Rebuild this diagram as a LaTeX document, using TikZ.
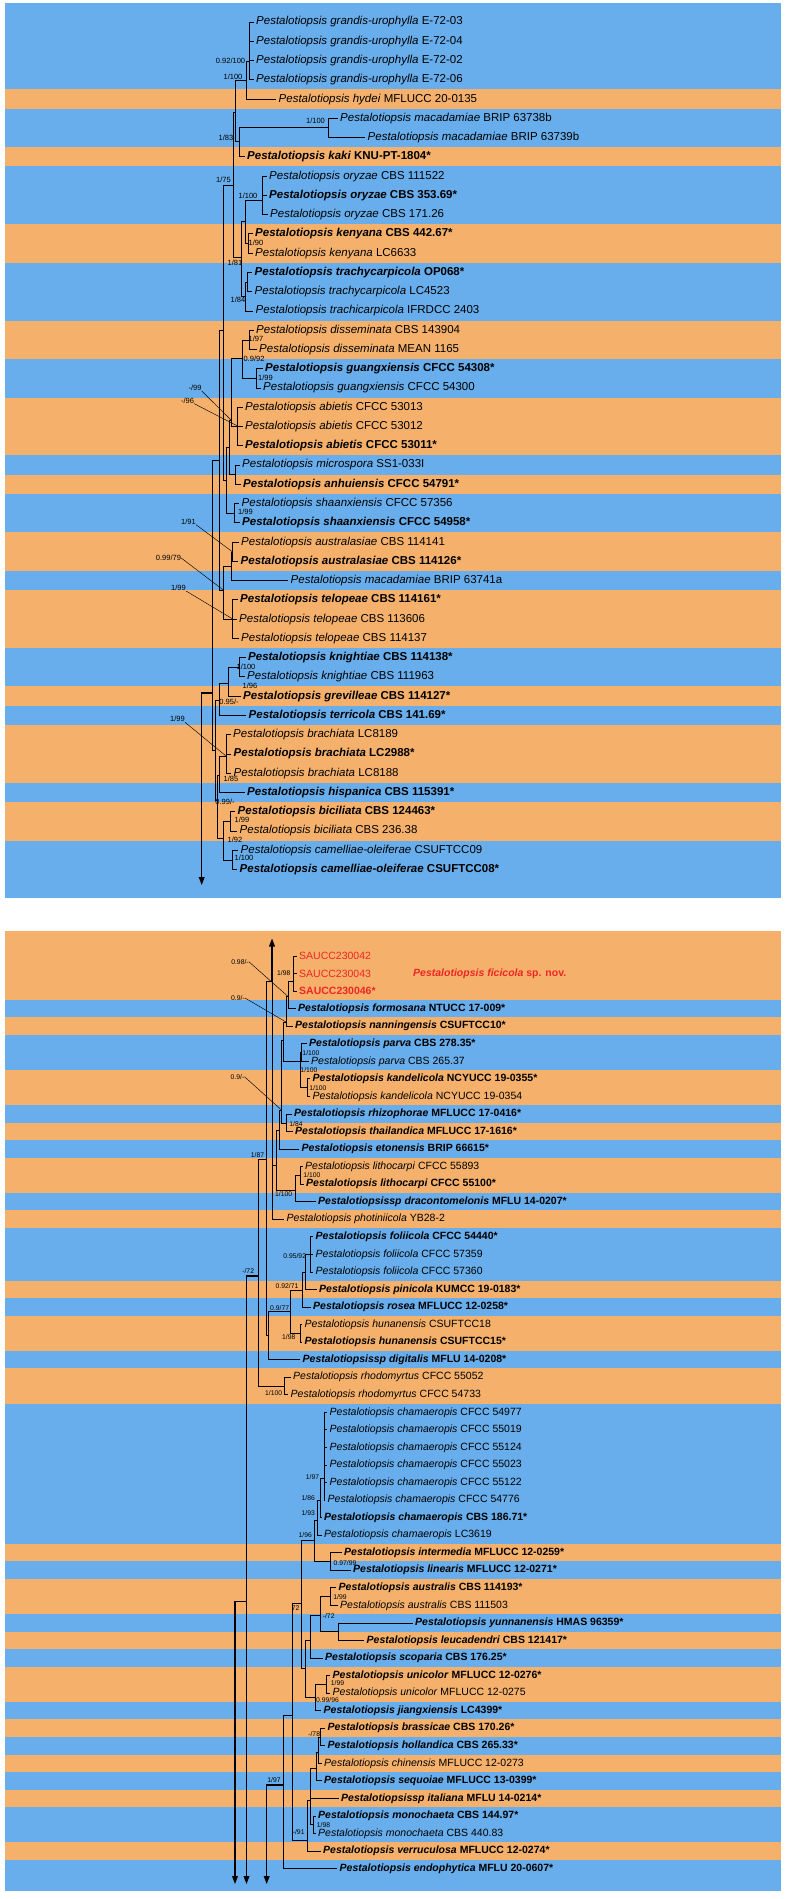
\documentclass[tikz,border=0pt]{standalone}
\usepackage{fontspec}
\setmainfont{Liberation Sans}
\usetikzlibrary{arrows.meta}
\definecolor{bandB}{RGB}{104,174,236}
\definecolor{bandO}{RGB}{245,177,107}
\definecolor{newR}{RGB}{238,38,36}
\newcommand{\taxr}[2]{\textit{#1} #2}
\newcommand{\taxb}[2]{\textbf{\textit{#1} #2}}

\begin{document}
\begin{tikzpicture}[x=1pt,y=-1pt,
  br/.style={line width=0.75pt},
  arr/.style={line width=1.1pt,-{Triangle[length=8pt,width=5.8pt]}},
  ptr/.style={line width=0.45pt},
  tax/.style={anchor=west,inner xsep=2.5pt,inner ysep=0pt,font=\fontsize{11.5}{13}\selectfont},
  taxs/.style={tax,font=\fontsize{10.5}{12}\selectfont},
  supp/.style={inner sep=0pt,font=\fontsize{7.5}{8}\selectfont},
  supps/.style={inner sep=0pt,font=\fontsize{6.8}{7}\selectfont}]
\useasboundingbox (0,0) rectangle (785,1899);

% bands
\fill[bandB] (5,3) rectangle (781,898);
\foreach \ra/\rb in {5/5,8/8,12/13,17/18,21/23,25/25,28/29,31/33,36/36,38/40,42/43}{
  \pgfmathsetmacro\yA{22+19.26*(\ra-1)-9.63}
  \pgfmathsetmacro\yB{22+19.26*(\rb-1)+9.63}
  \fill[bandO] (5,\yA) rectangle (781,\yB);}
\fill[bandB] (5,931) rectangle (781,1891);
\fill[bandO] (5,931) rectangle (781,999.875);
\foreach \ra/\rb in {5/5,8/9,11/11,13/14,16/16,20/20,22/23,25/26,35/35,37/38,40/40,42/43,45/45,47/47,49/49,52/52}{
  \pgfmathsetmacro\yA{956+17.55*(\ra-1)-8.775}
  \pgfmathsetmacro\yB{956+17.55*(\rb-1)+8.775}
  \fill[bandO] (5,\yA) rectangle (781,\yB);}

% upper panel taxa
\node[tax] (t1) at (253.5,22) {\taxr{Pestalotiopsis grandis-urophylla}{E-72-03}};
\node[tax] (t2) at (253.5,41.26) {\taxr{Pestalotiopsis grandis-urophylla}{E-72-04}};
\node[tax] (t3) at (253.5,60.52) {\taxr{Pestalotiopsis grandis-urophylla}{E-72-02}};
\node[tax] (t4) at (253.5,79.78) {\taxr{Pestalotiopsis grandis-urophylla}{E-72-06}};
\node[tax] (t5) at (276,99.04) {\taxr{Pestalotiopsis hydei}{MFLUCC 20-0135}};
\node[tax] (t6) at (337.5,118.3) {\taxr{Pestalotiopsis macadamiae}{BRIP 63738b}};
\node[tax] (t7) at (365,137.56) {\taxr{Pestalotiopsis macadamiae}{BRIP 63739b}};
\node[tax] (t8) at (244.5,156.82) {\taxb{Pestalotiopsis kaki}{KNU-PT-1804*}};
\node[tax] (t9) at (266.5,176.08) {\taxr{Pestalotiopsis oryzae}{CBS 111522}};
\node[tax] (t10) at (266.5,195.34) {\taxb{Pestalotiopsis oryzae}{CBS 353.69*}};
\node[tax] (t11) at (267.5,214.6) {\taxr{Pestalotiopsis oryzae}{CBS 171.26}};
\node[tax] (t12) at (252.5,233.86) {\taxb{Pestalotiopsis kenyana}{CBS 442.67*}};
\node[tax] (t13) at (252.5,253.12) {\taxr{Pestalotiopsis kenyana}{LC6633}};
\node[tax] (t14) at (252,272.38) {\taxb{Pestalotiopsis trachycarpicola}{OP068*}};
\node[tax] (t15) at (252,291.64) {\taxr{Pestalotiopsis trachycarpicola}{LC4523}};
\node[tax] (t16) at (253,310.9) {\taxr{Pestalotiopsis trachicarpicola}{IFRDCC 2403}};
\node[tax] (t17) at (253.5,330.16) {\taxr{Pestalotiopsis disseminata}{CBS 143904}};
\node[tax] (t18) at (256.5,349.42) {\taxr{Pestalotiopsis disseminata}{MEAN 1165}};
\node[tax] (t19) at (262.5,368.68) {\taxb{Pestalotiopsis guangxiensis}{CFCC 54308*}};
\node[tax] (t20) at (260.5,387.94) {\taxr{Pestalotiopsis guangxiensis}{CFCC 54300}};
\node[tax] (t21) at (242.5,407.2) {\taxr{Pestalotiopsis abietis}{CFCC 53013}};
\node[tax] (t22) at (242.5,426.46) {\taxr{Pestalotiopsis abietis}{CFCC 53012}};
\node[tax] (t23) at (242.5,445.72) {\taxb{Pestalotiopsis abietis}{CFCC 53011*}};
\node[tax] (t24) at (239.5,464.98) {\taxr{Pestalotiopsis microspora}{SS1-033I}};
\node[tax] (t25) at (240.5,484.24) {\taxb{Pestalotiopsis anhuiensis}{CFCC 54791*}};
\node[tax] (t26) at (239,503.5) {\taxr{Pestalotiopsis shaanxiensis}{CFCC 57356}};
\node[tax] (t27) at (239.5,522.76) {\taxb{Pestalotiopsis shaanxiensis}{CFCC 54958*}};
\node[tax] (t28) at (238.5,542.02) {\taxr{Pestalotiopsis australasiae}{CBS 114141}};
\node[tax] (t29) at (238,561.28) {\taxb{Pestalotiopsis australasiae}{CBS 114126*}};
\node[tax] (t30) at (288,580.54) {\taxr{Pestalotiopsis macadamiae}{BRIP 63741a}};
\node[tax] (t31) at (237.5,599.8) {\taxb{Pestalotiopsis telopeae}{CBS 114161*}};
\node[tax] (t32) at (236.5,619.06) {\taxr{Pestalotiopsis telopeae}{CBS 113606}};
\node[tax] (t33) at (238.5,638.32) {\taxr{Pestalotiopsis telopeae}{CBS 114137}};
\node[tax] (t34) at (245.5,657.58) {\taxb{Pestalotiopsis knightiae}{CBS 114138*}};
\node[tax] (t35) at (244.5,676.84) {\taxr{Pestalotiopsis knightiae}{CBS 111963}};
\node[tax] (t36) at (240.5,696.1) {\taxb{Pestalotiopsis grevilleae}{CBS 114127*}};
\node[tax] (t37) at (246,715.36) {\taxb{Pestalotiopsis terricola}{CBS 141.69*}};
\node[tax] (t38) at (230.5,734.62) {\taxr{Pestalotiopsis brachiata}{LC8189}};
\node[tax] (t39) at (231,753.88) {\taxb{Pestalotiopsis brachiata}{LC2988*}};
\node[tax] (t40) at (231,773.14) {\taxr{Pestalotiopsis brachiata}{LC8188}};
\node[tax] (t41) at (244.5,792.4) {\taxb{Pestalotiopsis hispanica}{CBS 115391*}};
\node[tax] (t42) at (235,811.66) {\taxb{Pestalotiopsis biciliata}{CBS 124463*}};
\node[tax] (t43) at (237,830.92) {\taxr{Pestalotiopsis biciliata}{CBS 236.38}};
\node[tax] (t44) at (238,850.18) {\taxr{Pestalotiopsis camelliae-oleiferae}{CSUFTCC09}};
\node[tax] (t45) at (237,869.44) {\taxb{Pestalotiopsis camelliae-oleiferae}{CSUFTCC08*}};

% upper panel internal nodes
\coordinate (nGu) at (249.3,61);
\coordinate (nGh) at (246.5,80);
\coordinate (nMa) at (328.5,127);
\coordinate (nKa) at (239.3,141);
\coordinate (nA) at (235.5,112);
\coordinate (nOr) at (262.7,200);
\coordinate (nKe) at (248.3,243);
\coordinate (nOK) at (245.5,221);
\coordinate (nTr1) at (247.5,282);
\coordinate (nTr) at (245,296);
\coordinate (nOKT) at (241.5,257);
\coordinate (nB) at (233.3,185);
\coordinate (nDi) at (249.3,340);
\coordinate (nGx) at (256.7,378);
\coordinate (nDG) at (242.7,358);
\coordinate (nAb) at (237.5,426);
\coordinate (nDGA) at (231,420);
\coordinate (nMiA) at (235.5,474);
\coordinate (nP1) at (229,447);
\coordinate (nSh) at (234.3,513);
\coordinate (nP2) at (226.7,480);
\coordinate (nN175) at (223.3,330);
\coordinate (nAu) at (232.7,552);
\coordinate (nAuM) at (231,566);
\coordinate (nTe) at (232.7,619);
\coordinate (nAT) at (223.3,590);
\coordinate (nP3) at (219.3,460);
\coordinate (nKn) at (239.3,667);
\coordinate (nKnG) at (228.3,683);
\coordinate (nKGT) at (219.3,700);
\coordinate (nBr) at (226,756);
\coordinate (nBrH) at (219.3,775);
\coordinate (nBi) at (230.7,821);
\coordinate (nCa) at (232.3,860);
\coordinate (nBC) at (223.3,838);
\coordinate (nBBC) at (217.5,800);
\coordinate (nLow) at (215.5,750);
\coordinate (nRootT) at (212,693);
\coordinate (endT) at (201.7,885);

\foreach \pa/\cs in {nGu/{t1,t2,t3,t4},nGh/{nGu,t5},nMa/{t6,t7},nKa/{nMa,t8},nA/{nGh,nKa},
  nOr/{t9,t10,t11},nKe/{t12,t13},nOK/{nOr,nKe},nTr1/{t14,t15},nTr/{nTr1,t16},nOKT/{nOK,nTr},
  nB/{nA,nOKT},nDi/{t17,t18},nGx/{t19,t20},nDG/{nDi,nGx},nAb/{t21,t22,t23},nDGA/{nDG,nAb},
  nMiA/{t24,t25},nP1/{nDGA,nMiA},nSh/{t26,t27},nP2/{nP1,nSh},nN175/{nB,nP2},nAu/{t28,t29},
  nAuM/{nAu,t30},nTe/{t31,t32,t33},nAT/{nAuM,nTe},nP3/{nN175,nAT},nKn/{t34,t35},nKnG/{nKn,t36},
  nKGT/{nKnG,t37},nBr/{t38,t39,t40},nBrH/{nBr,t41},nBi/{t42,t43},nCa/{t44,t45},nBC/{nBi,nCa},
  nBBC/{nBrH,nBC},nLow/{nKGT,nBBC},nRootT/{nP3,nLow}}
  \foreach \ch in \cs \draw[br] (\pa) |- (\ch.west);
\draw[arr] (nRootT) -| (endT);

% upper panel support values
\node[supp] (sGu) at (230.5,60.7) {0.92/100};
\node[supp] (sGh) at (233,76.7) {1/100};
\node[supp] (sMa) at (315.5,120.7) {1/100};
\node[supp] (sA) at (226,138.3) {1/83};
\node[supp] (sN175) at (223.5,180) {1/75};
\node[supp] (sOr) at (248,196) {1/100};
\node[supp] (sKe) at (256,243.3) {1/90};
\node[supp] (sOKT) at (235,263.3) {1/81};
\node[supp] (sTr) at (238,300) {1/84};
\node[supp] (sDi) at (256,339.3) {1/97};
\node[supp] (sDG) at (254,359.3) {0.9/92};
\node[supp] (sGx) at (265.5,377.7) {1/99};
\node[supp] (sDGA) at (195,388) {-/99};
\node[supp] (sAb) at (187.5,400.7) {-/96};
\node[supp] (sSh) at (245.5,511.7) {1/99};
\node[supp] (sAu) at (188.5,521.7) {1/91};
\node[supp] (sAT) at (168.5,558) {0.99/79};
\node[supp] (sTe) at (178.5,588) {1/99};
\node[supp] (sKn) at (246,666.7) {1/100};
\node[supp] (sKnG) at (250,685.5) {1/96};
\node[supp] (sKGT) at (229,701.7) {0.95/-};
\node[supp] (sBr) at (177.5,719.3) {1/99};
\node[supp] (sBrH) at (231,779) {1/85};
\node[supp] (sBBC) at (225,802.3) {0.99/-};
\node[supp] (sBi) at (242,820) {1/99};
\node[supp] (sBC) at (235,840) {1/92};
\node[supp] (sCa) at (244,858.3) {1/100};
\draw[ptr] (sDGA.south east) -- (nDGA);
\draw[ptr] (sAb.south east) -- (nAb);
\draw[ptr] (sAu.south east) -- (nAu);
\draw[ptr] (sAT.east) -- (nAT);
\draw[ptr] (sTe.south east) -- (nTe);
\draw[ptr] (sBr.south east) -- (nBr);

% lower panel taxa
\node[taxs,text=newR] (b1) at (296.5,956) {SAUCC230042};
\node[taxs,text=newR] (b2) at (296.5,973.55) {SAUCC230043};
\node[taxs,text=newR] (b3) at (296.5,991.1) {\textbf{SAUCC230046*}};
\node[taxs,text=newR] (fic) at (410.5,973.55) {\textbf{\textit{Pestalotiopsis ficicola} sp. nov.}};
\node[taxs] (b4) at (295.5,1008.65) {\taxb{Pestalotiopsis formosana}{NTUCC 17-009*}};
\node[taxs] (b5) at (292.5,1026.2) {\taxb{Pestalotiopsis nanningensis}{CSUFTCC10*}};
\node[taxs] (b6) at (306.5,1043.75) {\taxb{Pestalotiopsis parva}{CBS 278.35*}};
\node[taxs] (b7) at (308.5,1061.3) {\taxr{Pestalotiopsis parva}{CBS 265.37}};
\node[taxs] (b8) at (310,1078.85) {\taxb{Pestalotiopsis kandelicola}{NCYUCC 19-0355*}};
\node[taxs] (b9) at (310,1096.4) {\taxr{Pestalotiopsis kandelicola}{NCYUCC 19-0354}};
\node[taxs] (b10) at (291.5,1113.95) {\taxb{Pestalotiopsis rhizophorae}{MFLUCC 17-0416*}};
\node[taxs] (b11) at (292.5,1131.5) {\taxb{Pestalotiopsis thailandica}{MFLUCC 17-1616*}};
\node[taxs] (b12) at (299,1149.05) {\taxb{Pestalotiopsis etonensis}{BRIP 66615*}};
\node[taxs] (b13) at (302.5,1166.6) {\taxr{Pestalotiopsis lithocarpi}{CFCC 55893}};
\node[taxs] (b14) at (303.5,1184.15) {\taxb{Pestalotiopsis lithocarpi}{CFCC 55100*}};
\node[taxs] (b15) at (315.5,1201.7) {\taxb{Pestalotiopsissp dracontomelonis}{MFLU 14-0207*}};
\node[taxs] (b16) at (284,1219.25) {\taxr{Pestalotiopsis photiniicola}{YB28-2}};
\node[taxs] (b17) at (313,1236.8) {\taxb{Pestalotiopsis foliicola}{CFCC 54440*}};
\node[taxs] (b18) at (313,1254.35) {\taxr{Pestalotiopsis foliicola}{CFCC 57359}};
\node[taxs] (b19) at (313,1271.9) {\taxr{Pestalotiopsis foliicola}{CFCC 57360}};
\node[taxs] (b20) at (316.5,1289.45) {\taxb{Pestalotiopsis pinicola}{KUMCC 19-0183*}};
\node[taxs] (b21) at (310.5,1307) {\taxb{Pestalotiopsis rosea}{MFLUCC 12-0258*}};
\node[taxs] (b22) at (302,1324.55) {\taxr{Pestalotiopsis hunanensis}{CSUFTCC18}};
\node[taxs] (b23) at (302,1342.1) {\taxb{Pestalotiopsis hunanensis}{CSUFTCC15*}};
\node[taxs] (b24) at (300,1359.65) {\taxb{Pestalotiopsissp digitalis}{MFLU 14-0208*}};
\node[taxs] (b25) at (290.5,1377.2) {\taxr{Pestalotiopsis rhodomyrtus}{CFCC 55052}};
\node[taxs] (b26) at (288,1394.75) {\taxr{Pestalotiopsis rhodomyrtus}{CFCC 54733}};
\node[taxs] (b27) at (327,1412.3) {\taxr{Pestalotiopsis chamaeropis}{CFCC 54977}};
\node[taxs] (b28) at (327,1429.85) {\taxr{Pestalotiopsis chamaeropis}{CFCC 55019}};
\node[taxs] (b29) at (327,1447.4) {\taxr{Pestalotiopsis chamaeropis}{CFCC 55124}};
\node[taxs] (b30) at (327,1464.95) {\taxr{Pestalotiopsis chamaeropis}{CFCC 55023}};
\node[taxs] (b31) at (327,1482.5) {\taxr{Pestalotiopsis chamaeropis}{CFCC 55122}};
\node[taxs] (b32) at (325,1500.05) {\taxr{Pestalotiopsis chamaeropis}{CFCC 54776}};
\node[taxs] (b33) at (321.5,1517.6) {\taxb{Pestalotiopsis chamaeropis}{CBS 186.71*}};
\node[taxs] (b34) at (321.5,1535.15) {\taxr{Pestalotiopsis chamaeropis}{LC3619}};
\node[taxs] (b35) at (341.5,1552.7) {\taxb{Pestalotiopsis intermedia}{MFLUCC 12-0259*}};
\node[taxs] (b36) at (350.5,1570.25) {\taxb{Pestalotiopsis linearis}{MFLUCC 12-0271*}};
\node[taxs] (b37) at (336,1587.8) {\taxb{Pestalotiopsis australis}{CBS 114193*}};
\node[taxs] (b38) at (337.5,1605.35) {\taxr{Pestalotiopsis australis}{CBS 111503}};
\node[taxs] (b39) at (412.5,1622.9) {\taxb{Pestalotiopsis yunnanensis}{HMAS 96359*}};
\node[taxs] (b40) at (364,1640.45) {\taxb{Pestalotiopsis leucadendri}{CBS 121417*}};
\node[taxs] (b41) at (322.5,1658) {\taxb{Pestalotiopsis scoparia}{CBS 176.25*}};
\node[taxs] (b42) at (330,1675.55) {\taxb{Pestalotiopsis unicolor}{MFLUCC 12-0276*}};
\node[taxs] (b43) at (330,1693.1) {\taxr{Pestalotiopsis unicolor}{MFLUCC 12-0275}};
\node[taxs] (b44) at (321,1710.65) {\taxb{Pestalotiopsis jiangxiensis}{LC4399*}};
\node[taxs] (b45) at (325,1728.2) {\taxb{Pestalotiopsis brassicae}{CBS 170.26*}};
\node[taxs] (b46) at (325,1745.75) {\taxb{Pestalotiopsis hollandica}{CBS 265.33*}};
\node[taxs] (b47) at (321.5,1763.3) {\taxr{Pestalotiopsis chinensis}{MFLUCC 12-0273}};
\node[taxs] (b48) at (321.5,1780.85) {\taxb{Pestalotiopsis sequoiae}{MFLUCC 13-0399*}};
\node[taxs] (b49) at (338.5,1798.4) {\taxb{Pestalotiopsissp italiana}{MFLU 14-0214*}};
\node[taxs] (b50) at (315.5,1815.95) {\taxb{Pestalotiopsis monochaeta}{CBS 144.97*}};
\node[taxs] (b51) at (315.5,1833.5) {\taxr{Pestalotiopsis monochaeta}{CBS 440.83}};
\node[taxs] (b52) at (320.5,1851.05) {\taxb{Pestalotiopsis verruculosa}{MFLUCC 12-0274*}};
\node[taxs] (b53) at (337,1868.6) {\taxb{Pestalotiopsis endophytica}{MFLU 20-0607*}};

% lower panel internal nodes
\coordinate (nS) at (293.3,981.7);
\coordinate (nQ1) at (288.3,996.7);
\coordinate (nQ2) at (286,1022);
\coordinate (nP) at (301.7,1052.5);
\coordinate (nK) at (307.3,1087.7);
\coordinate (nPK) at (300,1061);
\coordinate (nQ3) at (283.3,1040);
\coordinate (nRT) at (286.7,1123);
\coordinate (nNa) at (281.5,1110);
\coordinate (nNb) at (279.5,1130);
\coordinate (nL) at (300,1175);
\coordinate (nLD) at (295,1190);
\coordinate (nNc) at (276.5,1165);
\coordinate (nNd) at (272,981.7);
\coordinate (nFo) at (310,1254.4);
\coordinate (nFoP) at (305,1272);
\coordinate (nFPR) at (302.3,1290);
\coordinate (nH) at (300,1333);
\coordinate (nFH) at (290,1311.7);
\coordinate (nG77) at (268.5,1335);
\coordinate (nN87) at (266.5,1159);
\coordinate (nRh) at (284,1386);
\coordinate (nN72) at (258,1276);
\coordinate (nC6) at (324,1478);
\coordinate (nC7) at (320,1500);
\coordinate (nC8) at (317.3,1520);
\coordinate (nIL) at (330,1561.7);
\coordinate (nCI) at (314.3,1540);
\coordinate (nAus) at (330,1596.6);
\coordinate (nYL) at (338.3,1631.7);
\coordinate (nAYL) at (320,1615);
\coordinate (nAYLS) at (310,1640);
\coordinate (nUn) at (326,1684.4);
\coordinate (nUJ) at (315,1697);
\coordinate (nX) at (305.5,1668);
\coordinate (nY) at (301.7,1603);
\coordinate (nBHo) at (320.7,1737);
\coordinate (nBHC) at (318.7,1752);
\coordinate (nBHCS) at (316.7,1768);
\coordinate (nMo) at (313.5,1824.8);
\coordinate (nG1) at (310,1800);
\coordinate (nMG) at (307.3,1840);
\coordinate (nZ) at (292,1715);
\coordinate (nW) at (283.3,1785);
\coordinate (upT) at (272,938.5);
\coordinate (brC) at (246.5,1601.7);
\coordinate (endA) at (246.5,1884);
\coordinate (endB) at (235,1884);
\coordinate (endC) at (266.7,1884);

\foreach \pa/\cs in {nS/{b1,b2,b3},nQ1/{nS,b4},nQ2/{nQ1,b5},nP/{b6,b7},nK/{b8,b9},nPK/{nP,nK},
  nQ3/{nQ2,nPK},nRT/{b10,b11},nNa/{nQ3,nRT},nNb/{nNa,b12},nL/{b13,b14},nLD/{nL,b15},
  nNc/{nNb,nLD},nNd/{nNc,b16},nFo/{b17,b18,b19},nFoP/{nFo,b20},nFPR/{nFoP,b21},nH/{b22,b23},
  nFH/{nFPR,nH},nG77/{nFH,b24},nN87/{nNd,nG77},nRh/{b25,b26},nN72/{nN87,nRh},
  nC6/{b27,b28,b29,b30,b31,b32},nC7/{nC6,b33},nC8/{nC7,b34},nIL/{b35,b36},nCI/{nC8,nIL},
  nAus/{b37,b38},nYL/{b39,b40},nAYL/{nAus,nYL},nAYLS/{nAYL,b41},nUn/{b42,b43},nUJ/{nUn,b44},
  nX/{nAYLS,nUJ},nY/{nCI,nX},nBHo/{b45,b46},nBHC/{nBHo,b47},nBHCS/{nBHC,b48},nMo/{b50,b51},
  nG1/{nBHCS,b49,nMo},nMG/{nG1,b52},nZ/{nY,nMG},nW/{nZ,b53}}
  \foreach \ch in \cs \draw[br] (\pa) |- (\ch.west);
\draw[arr] (nNd) -- (upT);
\draw[arr] (nN72) -| (endA);
\draw[arr] (brC) -| (endB);
\draw[arr] (nW) -| (endC);

% lower panel support values
\node[supps] (qQ1) at (240,961.7) {0.98/-};
\node[supps] (qQ2) at (238,998) {0.9/-};
\node[supps] (qNa) at (237.5,1076.7) {0.9/-};
\node[supps] (qS) at (283.7,973.3) {1/98};
\node[supps] (qP) at (311,1052.7) {1/100};
\node[supps] (qPK) at (309,1070) {1/100};
\node[supps] (qK) at (318,1088.3) {1/100};
\node[supps] (qRT) at (296,1124) {1/84};
\node[supps] (qN87) at (257.5,1155) {1/87};
\node[supps] (qL) at (312,1175) {1/100};
\node[supps] (qLD) at (283.7,1194) {1/100};
\node[supps] (qFo) at (294.7,1256) {0.95/92};
\node[supps] (qFoP) at (287,1286) {0.92/71};
\node[supps] (qG77) at (279.7,1308.3) {0.9/77};
\node[supps] (qH) at (288.7,1336.7) {1/98};
\node[supps] (qN72) at (248.2,1271.5) {-/72};
\node[supps] (qRh) at (273.7,1393.3) {1/100};
\node[supps] (qC6) at (312.5,1476.7) {1/97};
\node[supps] (qC7) at (308.2,1498.3) {1/86};
\node[supps] (qC8) at (308.2,1513.3) {1/93};
\node[supps] (qCI) at (305.2,1535) {1/96};
\node[supps] (qIL) at (345,1562.7) {0.97/99};
\node[supps] (qAus) at (340,1596.7) {1/99};
\node[supps] (qY) at (295.7,1607.7) {72};
\node[supps] (qAYL) at (328.7,1616) {-/72};
\node[supps] (qUn) at (337.5,1683.3) {1/99};
\node[supps] (qUJ) at (327.5,1700) {0.99/96};
\node[supps] (qBHo) at (314.2,1734) {-/78};
\node[supps] (qMo) at (323.5,1825) {1/98};
\node[supps] (qMG) at (298.7,1831.7) {-/91};
\node[supps] (qW) at (274,1780) {1/97};
\draw[ptr] (qQ1.east) -- (nQ1);
\draw[ptr] (qQ2.east) -- (nQ2);
\draw[ptr] (qNa.east) -- (nNa);
\end{tikzpicture}
\end{document}
